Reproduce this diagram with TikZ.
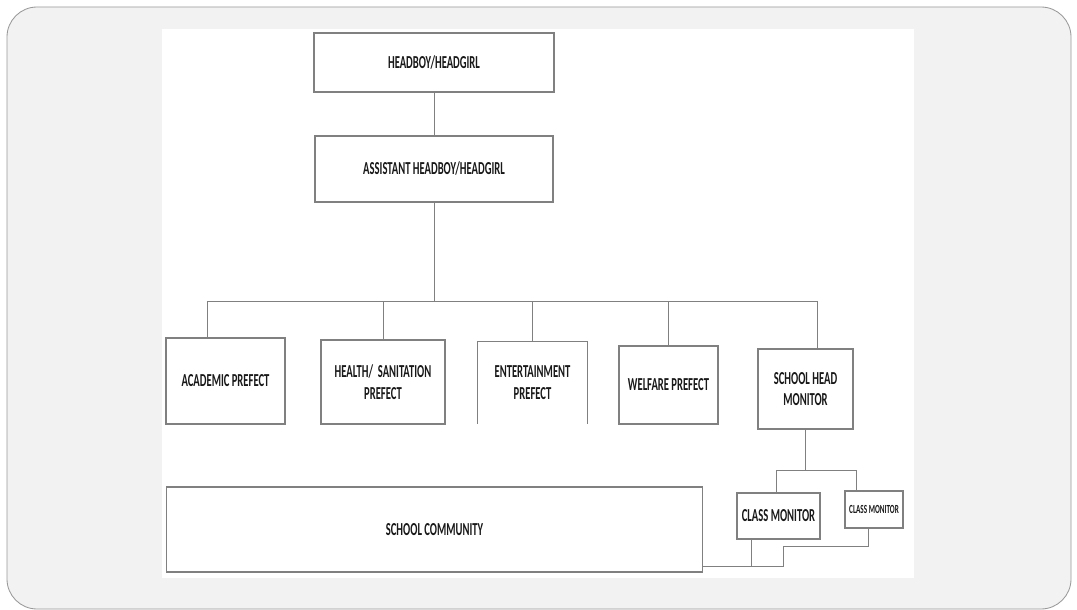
\documentclass[tikz,border=0pt]{standalone}
\usepackage{fontspec}
\setmainfont{Carlito}[FakeStretch=0.58]
\usepackage{tikz}
\usetikzlibrary{positioning}

\begin{document}
\begin{tikzpicture}[
                x=0.025cm, y=-0.025cm,
                post/.style={rectangle, draw=black!50, line width=0.8pt, fill=white, text=black!90, font=\bfseries\fontsize{13}{15.5}\selectfont, align=center, inner sep=0pt},
                openpost/.style={post, draw=none},
                small/.style={post, font=\bfseries\fontsize{8.8}{9}\selectfont},
                link/.style={draw=black!50, line width=0.6pt}
            ]
            
            % Slide background
            \useasboundingbox (0,0) rectangle (1077,610);
            \fill[white] (0,0) rectangle (1077,610);
            \draw[fill=gray!10, draw=black!40, line width=0.6pt, rounded corners=0.75cm] (7,7) rectangle (1071,609);
            \fill[white] (162,29) rectangle (914,578);
            
            % Top of the chart
            \node[post, minimum width=6cm, minimum height=1.475cm] (head) at (434,62.5) {HEADBOY/HEADGIRL};
            \node[post, minimum width=5.95cm, minimum height=1.65cm] (asst) at (434,169) {ASSISTANT HEADBOY/HEADGIRL};
            \draw[link] (head) -- (asst);
            
            % Prefects
            \node[post, minimum width=2.975cm, minimum height=2.15cm] (acad) at (225.5,381) {ACADEMIC PREFECT};
            \node[post, minimum width=3.1cm, minimum height=2.1cm] (health) at (383,382) {HEALTH/ \ SANITATION\\PREFECT};
            \node[openpost, minimum width=2.7cm, minimum height=2.025cm] (ent) at (532.5,382.5) {ENTERTAINMENT\\PREFECT};
            \node[post, minimum width=2.475cm, minimum height=1.95cm] (welf) at (668.5,385) {WELFARE PREFECT};
            \node[post, minimum width=2.375cm, minimum height=2cm] (shm) at (805.5,389) {SCHOOL HEAD\\MONITOR};
            \draw[link, line width=0.8pt] (ent.south west) -- (ent.north west) -- (ent.north east) -- (ent.south east);
            
            \coordinate (busL) at (207,301);
            \coordinate (busR) at (817,301);
            \draw[link] (asst) -- (asst.south |- busL);
            \draw[link] (busL) -- (busR);
            \draw[link] (busL) -- (busL |- acad.north);
            \draw[link] (health.north |- busL) -- (health.north);
            \draw[link] (ent.north |- busL) -- (ent.north);
            \draw[link] (welf.north |- busL) -- (welf.north);
            \draw[link] (busR) -- (busR |- shm.north);
            
            % Monitors and community
            \node[post, minimum width=13.375cm, minimum height=2.125cm] (comm) at (434.5,529.5) {SCHOOL COMMUNITY};
            \node[post, minimum width=2.075cm, minimum height=1.15cm] (cm1) at (778.5,516) {CLASS MONITOR};
            \node[small, minimum width=1.45cm, minimum height=0.925cm] (cm2) at (874,509.5) {CLASS MONITOR};
            
            \coordinate (subL) at (776,470);
            \coordinate (subR) at (856,470);
            \draw[link] (shm) -- (shm.south |- subL);
            \draw[link] (subL) -- (subR);
            \draw[link] (subL) -- (subL |- cm1.north);
            \draw[link] (subR) -- (subR |- cm2.north);
            
            \coordinate (j1) at (751,566);
            \coordinate (j2) at (783,546);
            \coordinate (j3) at (868,546);
            \draw[link] (j1 |- cm1.south) -- (j1);
            \draw[link] (comm.east |- j1) -- (j2 |- j1) -- (j2) -- (j3) -- (j3 |- cm2.south);
            \end{tikzpicture}
\end{document}
